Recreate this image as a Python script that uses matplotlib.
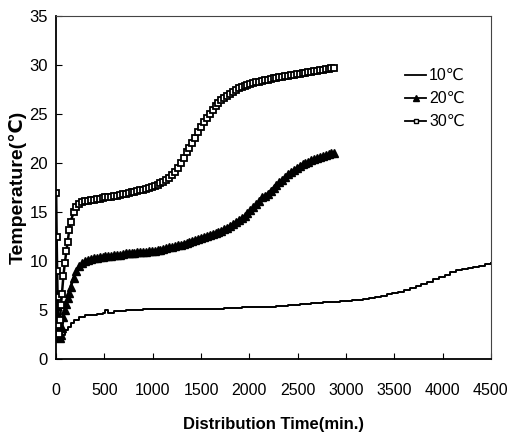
import matplotlib
matplotlib.use("Agg")
import matplotlib.pyplot as plt
from matplotlib.lines import Line2D

plt.rcParams['font.family'] = ['Liberation Sans', 'DejaVu Sans']

# ---- data ----
t_hi = [0, 5, 10, 15, 20, 30, 40, 50, 60, 75, 90, 105, 120, 135, 150, 180, 210, 240, 270,
        300, 330, 360, 390, 420, 450, 480, 510, 540, 570, 600, 630, 660, 690, 720, 750, 780,
        810, 840, 870, 900, 930, 960, 990, 1020, 1050, 1080, 1110, 1140, 1170, 1200, 1230,
        1260, 1290, 1320, 1350, 1380, 1410, 1440, 1470, 1500, 1530, 1560, 1590, 1620, 1650,
        1680, 1710, 1740, 1770, 1800, 1830, 1860, 1890, 1920, 1950, 1980, 2010, 2040, 2070,
        2100, 2130, 2160, 2190, 2220, 2250, 2280, 2310, 2340, 2370, 2400, 2430, 2460, 2490,
        2520, 2550, 2580, 2610, 2640, 2670, 2700, 2730, 2760, 2790, 2820, 2850, 2880]

temp_30 = [17.0, 12.5, 9.0, 6.3, 3.5, 2.6, 4.0, 5.5, 6.7, 8.5, 9.8, 11.0, 12.0, 13.2, 14.0,
           15.0, 15.5, 15.8, 16.0,
           16.1, 16.1, 16.2, 16.2, 16.3, 16.3, 16.4, 16.5, 16.5, 16.6, 16.7, 16.7, 16.8, 16.9,
           16.9, 17.0, 17.1, 17.1, 17.2, 17.3, 17.3, 17.4, 17.5, 17.6, 17.7, 17.8, 18.0, 18.1,
           18.3, 18.5, 18.8, 19.1, 19.5, 20.0, 20.5, 21.1, 21.6, 22.1, 22.6, 23.2, 23.7, 24.2,
           24.6, 25.0, 25.4, 25.8, 26.1, 26.4, 26.7, 26.9, 27.1, 27.3, 27.5, 27.7, 27.8, 27.9,
           28.0, 28.1, 28.2, 28.3, 28.3, 28.4, 28.5, 28.5, 28.6, 28.7, 28.7, 28.8, 28.8, 28.9,
           28.9, 29.0, 29.0, 29.1, 29.1, 29.2, 29.2, 29.3, 29.3, 29.4, 29.4, 29.5, 29.5, 29.6,
           29.6, 29.7, 29.7]

temp_20 = [6.5, 5.5, 4.5, 3.5, 2.8, 2.3, 2.2, 2.5, 3.2, 4.3, 5.0, 5.6, 6.2, 6.8, 7.4,
           8.3, 9.0, 9.5, 9.8,
           10.0, 10.1, 10.2, 10.3, 10.3, 10.4, 10.4, 10.5, 10.5, 10.5, 10.6, 10.6, 10.6, 10.7,
           10.8, 10.8, 10.8, 10.8, 10.9, 10.9, 10.9, 10.9, 11.0, 11.0, 11.0, 11.1, 11.1, 11.2,
           11.3, 11.4, 11.4, 11.5, 11.6, 11.7, 11.8, 11.9, 12.0, 12.1, 12.2, 12.3, 12.4, 12.5,
           12.6, 12.7, 12.8, 12.9, 13.0, 13.1, 13.3, 13.4, 13.6, 13.8, 14.0, 14.2, 14.4, 14.6,
           14.9, 15.2, 15.5, 15.8, 16.1, 16.5, 16.7, 16.9, 17.2, 17.5, 17.8, 18.1, 18.3, 18.6,
           18.9, 19.1, 19.3, 19.5, 19.7, 19.9, 20.0, 20.1, 20.3, 20.4, 20.5, 20.6, 20.7, 20.8,
           20.9, 21.0, 21.0]

t_10 = [0, 20, 40, 60, 90, 120, 150, 180, 240, 300, 360, 420, 480, 510, 540, 600, 660, 720,
        780, 840, 900, 960, 1020, 1080, 1140, 1200, 1260, 1320, 1380, 1440, 1500, 1560, 1620,
        1680, 1740, 1800, 1860, 1920, 1980, 2040, 2100, 2160, 2220, 2280, 2340, 2400, 2460,
        2520, 2580, 2640, 2700, 2760, 2820, 2880, 2940, 3000, 3060, 3120, 3180, 3240, 3300,
        3360, 3420, 3480, 3540, 3600, 3660, 3720, 3780, 3840, 3900, 3960, 4020, 4080, 4140,
        4200, 4260, 4320, 4380, 4440, 4500]
temp_10 = [2.3, 2.2, 2.2, 2.5, 3.0, 3.3, 3.7, 4.0, 4.3, 4.5, 4.5, 4.6, 4.7, 5.0, 4.7, 4.9,
           4.9, 5.0, 5.0, 5.0, 5.1, 5.1, 5.1, 5.1, 5.1, 5.1, 5.1, 5.1, 5.1, 5.1, 5.1, 5.1, 5.1,
           5.1, 5.2, 5.2, 5.2, 5.3, 5.3, 5.3, 5.3, 5.3, 5.3, 5.4, 5.4, 5.5, 5.5, 5.6, 5.6, 5.7,
           5.7, 5.8, 5.8, 5.8, 5.9, 5.9, 6.0, 6.0, 6.1, 6.2, 6.3, 6.4, 6.6, 6.8, 6.9, 7.1, 7.3,
           7.5, 7.7, 7.9, 8.2, 8.4, 8.6, 8.9, 9.1, 9.2, 9.3, 9.4, 9.5, 9.7, 9.8]

labels = ['10℃', '20℃', '30℃']
x_ticks = [0, 500, 1000, 1500, 2000, 2500, 3000, 3500, 4000, 4500]
y_ticks = [0, 5, 10, 15, 20, 25, 30, 35]

# ---- figure ----
fig = plt.figure(figsize=(5.2, 4.38), dpi=100)
ax = fig.add_axes([0.108, 0.180, 0.836, 0.783])

ax.plot(t_10, temp_10, color='black', lw=1.4, drawstyle='steps-post')
ax.plot(t_hi, temp_20, color='black', lw=2.0, marker='^', ms=5.5,
        mfc='black', mec='black')
ax.plot(t_hi, temp_30, color='black', lw=1.8, marker='s', ms=4.5,
        mfc='white', mec='black', mew=1.3)

ax.set_xlim(0, 4500)
ax.set_ylim(0, 35)
ax.set_xticks(x_ticks)
ax.set_yticks(y_ticks)
ax.tick_params(axis='x', direction='in', length=4, pad=17, labelsize=11.5)
ax.tick_params(axis='y', direction='in', length=4, pad=6, labelsize=12)

for s in ['left', 'bottom']:
    ax.spines[s].set_linewidth(1.3)
    ax.spines[s].set_color('black')
for s in ['top', 'right']:
    ax.spines[s].set_linewidth(0.8)
    ax.spines[s].set_color('#444444')

ax.set_xlabel('Distribution Time(min.)', fontsize=12, fontweight='bold', labelpad=14)
ax.set_ylabel('Temperature(℃)', fontsize=14, fontweight='bold', labelpad=2)

handles = [
    Line2D([], [], color='black', lw=1.3),
    Line2D([], [], color='black', lw=1.3, marker='^', ms=4, mfc='black'),
    Line2D([], [], color='black', lw=1.3, marker='s', ms=3.5, mfc='white'),
]
ax.legend(handles, labels, loc='upper left', bbox_to_anchor=(0.77, 0.89),
          frameon=False, fontsize=11.5, handlelength=1.3, handletextpad=0.2,
          labelspacing=0.5)

fig.savefig('out.png', dpi=100)
